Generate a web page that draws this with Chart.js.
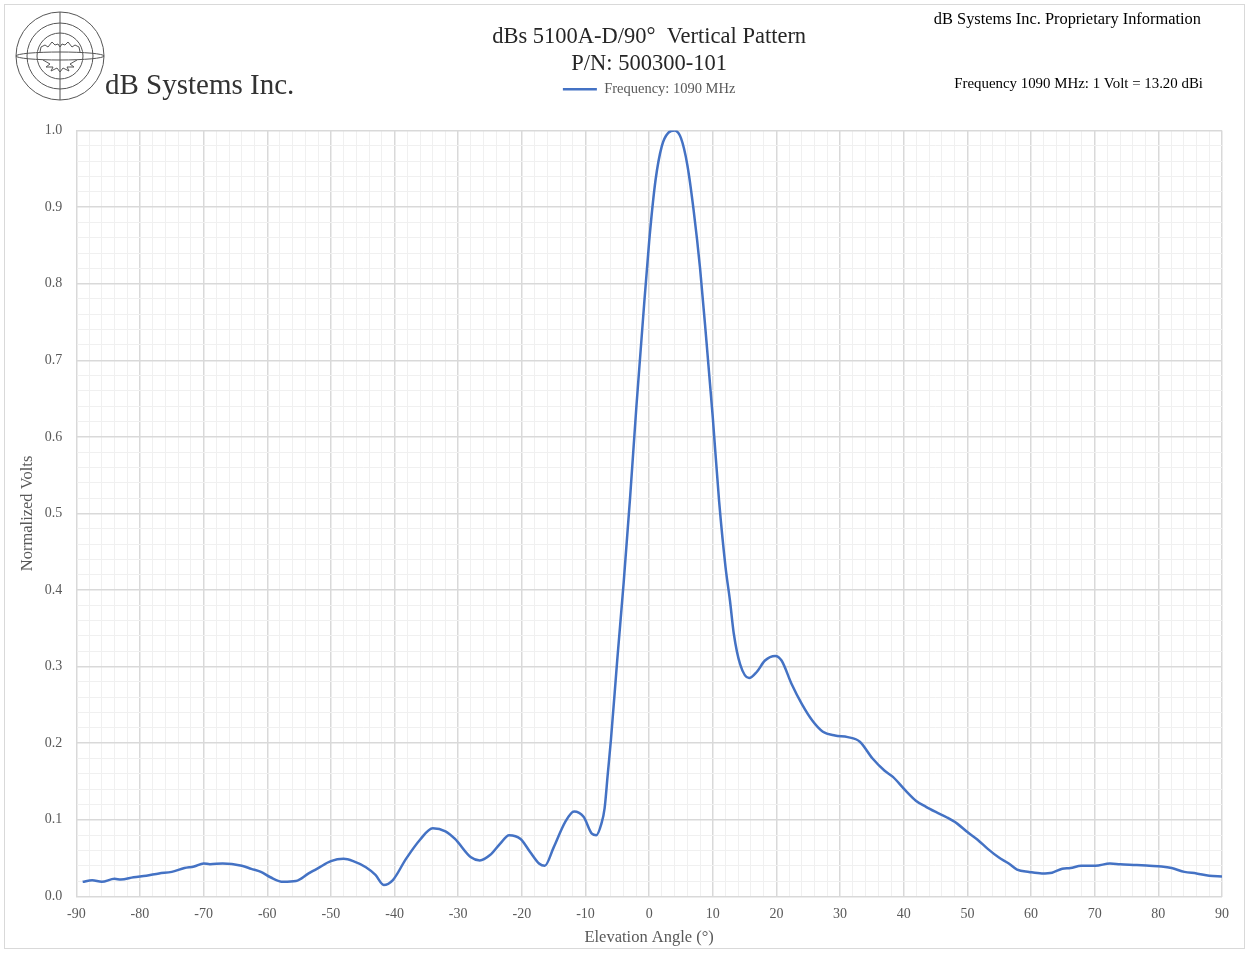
<!DOCTYPE html>
<html>
<head>
<meta charset="utf-8">
<script src="https://cdn.jsdelivr.net/npm/chart.js@4"></script>
<style>
  html, body { margin: 0; padding: 0; background: #fff; }
  #wrap { width: 1249px; height: 953px; position: relative; }
</style>
</head>
<body>
<div id="wrap"><canvas id="grafico"></canvas></div>
<script>
// elevation angle (deg) and normalized volts
var angulos = [
  -89, -87.5, -86, -84, -83, -81, -79, -77, -75, -73, -71.5, -70, -69, -67, -64, -62.5, -61, -59.5,
  -57.5, -55.5, -53.5, -52, -50, -48, -46.5, -44.5, -43, -41.7, -40.3, -38.2, -36, -34, -32, -30.5,
  -28, -26.6, -25, -23.4, -22, -20.2, -18.7, -17.3, -16.4, -15, -13.2, -11.8, -10.3, -9, -8.3,
  -7.5, -7, -6.5, -6, -5, -4, -3, -2, -1, 0, 1, 2, 3, 4, 5, 6, 7, 8, 9, 10, 11, 12, 12.7, 13.3,
  14.3, 15.7, 16.9, 18.2, 19.8, 20.8, 22.4, 24, 25.6, 27.3, 29.2, 31.2, 33.1, 35.1, 37, 38.3,
  40.3, 41.9, 43.5, 45.1, 46.8, 48.4, 50, 51.6, 53.2, 54.9, 56.5, 57.8, 59.7, 61.7, 63.3, 64.9,
  66.2, 67.9, 70.1, 72.4, 74, 76.6, 78.6, 80.5, 82.1, 84.1, 86, 88, 90
];
var volts = [
  0.019, 0.021, 0.019, 0.023, 0.022, 0.025, 0.027, 0.030, 0.032, 0.037, 0.039, 0.043, 0.042, 0.043, 0.040, 0.036, 0.032, 0.025,
  0.019, 0.020, 0.030, 0.037, 0.046, 0.049, 0.046, 0.038, 0.028, 0.015, 0.021, 0.049, 0.074, 0.089, 0.085, 0.075,
  0.051, 0.047, 0.054, 0.069, 0.080, 0.075, 0.058, 0.043, 0.040, 0.064, 0.097, 0.111, 0.104, 0.082, 0.080,
  0.095, 0.115, 0.160, 0.205, 0.310, 0.410, 0.520, 0.640, 0.750, 0.855, 0.935, 0.980, 0.997, 1.000, 0.990, 0.955, 0.895, 0.820, 0.725, 0.625, 0.515, 0.430, 0.386, 0.343,
  0.303, 0.285, 0.293, 0.308, 0.314, 0.308, 0.277, 0.251, 0.230, 0.215, 0.210, 0.208, 0.202, 0.180, 0.164, 0.156,
  0.138, 0.125, 0.117, 0.110, 0.103, 0.095, 0.084, 0.074, 0.062, 0.051, 0.043, 0.035, 0.032, 0.030, 0.031, 0.036,
  0.037, 0.040, 0.040, 0.043, 0.042, 0.041, 0.040, 0.039, 0.037, 0.032, 0.030, 0.027, 0.026
];
var titulo = ['dBs 5100A-D/90\u00B0  Vertical Pattern', 'P/N: 500300-101'];
var serie = 'Frequency: 1090 MHz';
var empresa = 'dB Systems Inc.';
var aviso = 'dB Systems Inc. Proprietary Information';
var ganho = 'Frequency 1090 MHz: 1 Volt = 13.20 dBi';

var SERIF = "'Liberation Serif', 'Times New Roman', serif";
var CINZA = '#595959';

var pontos = angulos.map(function(a, i) { return { x: a, y: volts[i] }; });

function desenharLogo(ctx) {
  var cx = 60, cy = 56;
  ctx.save();
  ctx.strokeStyle = '#555';
  ctx.lineWidth = 1;
  [44, 33, 23].forEach(function(r) {
    ctx.beginPath(); ctx.arc(cx, cy, r, 0, Math.PI * 2); ctx.stroke();
  });
  ctx.beginPath(); ctx.ellipse(cx, cy, 44, 4, 0, 0, Math.PI * 2); ctx.stroke();
  ctx.beginPath(); ctx.moveTo(cx, cy - 44); ctx.lineTo(cx, cy + 44); ctx.stroke();
  // asas
  ctx.beginPath();
  ctx.moveTo(cx - 20, cy - 4);
  ctx.lineTo(cx - 19, cy - 9); ctx.lineTo(cx - 15, cy - 11); ctx.lineTo(cx - 12, cy - 9);
  ctx.lineTo(cx - 8, cy - 14); ctx.lineTo(cx - 5, cy - 11); ctx.lineTo(cx - 2, cy - 12);
  ctx.lineTo(cx, cy - 9);
  ctx.lineTo(cx + 2, cy - 12); ctx.lineTo(cx + 5, cy - 11); ctx.lineTo(cx + 8, cy - 14);
  ctx.lineTo(cx + 12, cy - 9); ctx.lineTo(cx + 15, cy - 11); ctx.lineTo(cx + 19, cy - 9);
  ctx.lineTo(cx + 20, cy - 4);
  ctx.stroke();
  // cauda
  ctx.beginPath();
  ctx.moveTo(cx - 17, cy + 4);
  ctx.lineTo(cx - 10, cy + 8); ctx.lineTo(cx - 14, cy + 11); ctx.lineTo(cx - 7, cy + 11);
  ctx.lineTo(cx - 9, cy + 15); ctx.lineTo(cx - 3, cy + 12); ctx.lineTo(cx, cy + 16);
  ctx.lineTo(cx + 3, cy + 12); ctx.lineTo(cx + 9, cy + 15); ctx.lineTo(cx + 7, cy + 11);
  ctx.lineTo(cx + 14, cy + 11); ctx.lineTo(cx + 10, cy + 8); ctx.lineTo(cx + 17, cy + 4);
  ctx.stroke();
  ctx.restore();
}

var cabecalho = {
  id: 'cabecalho',
  beforeInit: function(chart) {
    // espaco extra abaixo da legenda
    var fitOriginal = chart.legend.fit;
    chart.legend.fit = function() {
      fitOriginal.bind(chart.legend)();
      this.height += 24;
    };
  },
  afterDraw: function(chart) {
    var ctx = chart.ctx;
    ctx.save();
    ctx.strokeStyle = '#d9d9d9';
    ctx.lineWidth = 1;
    ctx.strokeRect(4.5, 4.5, 1240, 944);
    desenharLogo(ctx);
    ctx.fillStyle = '#333';
    ctx.textBaseline = 'middle';
    ctx.font = '29px ' + SERIF;
    ctx.textAlign = 'left';
    ctx.fillText(empresa, 105, 86);
    ctx.textAlign = 'right';
    ctx.font = '16.4px ' + SERIF;
    ctx.fillStyle = '#000';
    ctx.fillText(aviso, 1201, 20);
    ctx.font = '14.9px ' + SERIF;
    ctx.fillText(ganho, 1203, 84);
    ctx.restore();
  }
};

function ehMaior(v, passo) {
  return Math.abs(Math.round(v / passo) * passo - v) < 1e-6;
}

var grafico = new Chart(document.getElementById('grafico').getContext('2d'), {
  type: 'line',
  data: {
    datasets: [{
      label: serie,
      data: pontos,
      borderColor: '#4472C4',
      backgroundColor: '#4472C4',
      borderWidth: 2.5,
      pointRadius: 0,
      cubicInterpolationMode: 'monotone',
      fill: false
    }]
  },
  options: {
    responsive: true,
    maintainAspectRatio: false,
    animation: false,
    layout: { padding: { left: 2, right: 27, top: 24, bottom: 5 } },
    plugins: {
      title: {
        display: true,
        fullSize: false,
        text: titulo,
        color: '#262626',
        font: { family: SERIF, size: 22.5, weight: 'normal', lineHeight: 1.2 },
        padding: { top: 0, bottom: -2 }
      },
      legend: {
        display: true,
        fullSize: false,
        labels: {
          usePointStyle: true,
          pointStyle: 'line',
          pointStyleWidth: 34,
          color: CINZA,
          font: { family: SERIF, size: 14.5 },
          padding: 6
        }
      },
      tooltip: { enabled: false }
    },
    scales: {
      x: {
        type: 'linear',
        min: -90,
        max: 90,
        ticks: {
          stepSize: 2,
          autoSkip: false,
          maxRotation: 0,
          color: CINZA,
          font: { family: SERIF, size: 14 },
          padding: 10,
          callback: function(v) { return ehMaior(v, 10) ? String(Math.round(v)) : ''; }
        },
        grid: {
          drawTicks: false,
          color: function(c) { return ehMaior(c.tick.value, 10) ? '#d9d9d9' : '#f0f0f0'; },
          lineWidth: function(c) { return ehMaior(c.tick.value, 10) ? 1.5 : 1; }
        },
        border: { color: '#d9d9d9' },
        title: {
          display: true,
          text: 'Elevation Angle (\u00B0)',
          color: CINZA,
          font: { family: SERIF, size: 16.5 },
          padding: { top: -5, bottom: 0 }
        }
      },
      y: {
        min: 0,
        max: 1,
        ticks: {
          stepSize: 0.02,
          autoSkip: false,
          color: CINZA,
          font: { family: SERIF, size: 14 },
          padding: 14,
          callback: function(v) { return ehMaior(v, 0.1) ? v.toFixed(1) : ''; }
        },
        grid: {
          drawTicks: false,
          color: function(c) { return ehMaior(c.tick.value, 0.1) ? '#d9d9d9' : '#f0f0f0'; },
          lineWidth: function(c) { return ehMaior(c.tick.value, 0.1) ? 1.5 : 1; }
        },
        border: { color: '#d9d9d9' },
        title: {
          display: true,
          text: 'Normalized Volts',
          color: CINZA,
          font: { family: SERIF, size: 16.5 },
          padding: { top: 16, bottom: -7 }
        }
      }
    }
  },
  plugins: [cabecalho]
});
</script>
</body>
</html>
